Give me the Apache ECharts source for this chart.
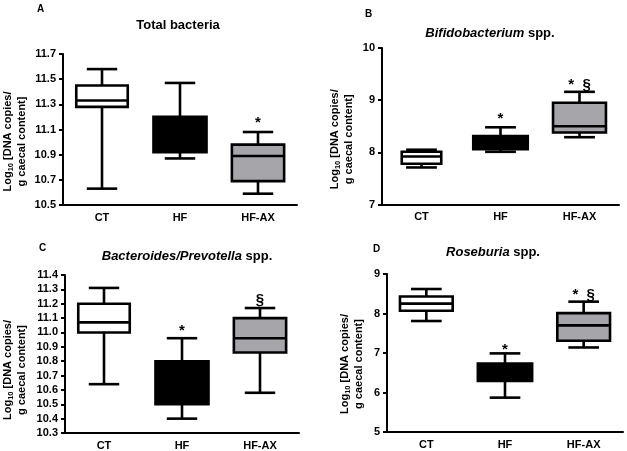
<!DOCTYPE html>
<html>
<head>
<meta charset="utf-8">
<script src="https://cdn.jsdelivr.net/npm/echarts@6/dist/echarts.min.js"></script>
<style>
html,body{margin:0;padding:0;background:#fff;}
#main{width:627px;height:451px;}
</style>
</head>
<body>
<div id="main"></div>
<script>
// ---------- DATA ----------
const categories = ['CT', 'HF', 'HF-AX'];
// five-number summaries per group: [min, Q1, median, Q3, max]
const totalBacteria = [[10.63, 11.28, 11.33, 11.45, 11.58], [10.87, 10.92, 11.05, 11.20, 11.47], [10.59, 10.69, 10.89, 10.98, 11.08]];
const bifidobacterium = [[7.71, 7.78, 7.92, 8.01, 8.05], [8.01, 8.06, 8.20, 8.31, 8.48], [8.29, 8.38, 8.50, 8.95, 9.16]];
const bacteroides = [[10.64, 11.00, 11.07, 11.20, 11.31], [10.40, 10.50, 10.65, 10.80, 10.96], [10.58, 10.86, 10.96, 11.10, 11.17]];
const roseburia = [[7.81, 8.07, 8.25, 8.43, 8.62], [5.87, 6.29, 6.50, 6.73, 6.99], [7.14, 7.31, 7.70, 8.01, 8.30]];
// significance annotations: [category index, value, text]
const notesA = [[2, 11.15, '*']];
const notesB = [[1, 8.64, '*'], [2, 9.29, '*  §']];
const notesC = [[1, 11.01, '*'], [2, 11.23, '§']];
const notesD = [[1, 7.08, '*'], [2, 8.47, '*  §']];
// tick labels
const ticksA = [10.5, 10.7, 10.9, 11.1, 11.3, 11.5, 11.7];
const ticksB = [7, 8, 9, 10];
const ticksC = [10.3, 10.4, 10.5, 10.6, 10.7, 10.8, 10.9, 11.0, 11.1, 11.2, 11.3, 11.4];
const ticksD = [5, 6, 7, 8, 9];
const panelLetters = ['A', 'B', 'C', 'D'];
const panelTitles = ['Total bacteria', '{i|Bifidobacterium} spp.', '{i|Bacteroides/Prevotella} spp.', '{i|Roseburia} spp.'];

// ---------- STYLE / LAYOUT ----------
const FONT = '"Liberation Sans", Arial, sans-serif';
const fills = ['#ffffff', '#000000', '#a5a5aa'];
const grids = [
  {left: 61, top: 54, width: 236, height: 151},
  {left: 382, top: 48, width: 237, height: 156.5},
  {left: 63, top: 275, width: 236, height: 158},
  {left: 387, top: 274, width: 236, height: 158}
];
const nameGaps = [34, 26, 36, 21];
const nameShift = [12, 13, 16, 11];
const decimals = [1, 0, 1, 0];
const boxFrac = [[0.66, 0.68, 0.67], [0.5, 0.69, 0.67], [0.66, 0.68, 0.67], [0.67, 0.69, 0.67]];
const titlePos = [[178, 19], [490, 27], [187, 250], [493, 246]];
const letterPos = [[37, 4], [365, 9], [39, 243], [373, 244]];

const chart = echarts.init(document.getElementById('main'), null, {renderer: 'canvas'});

function boxRenderer(panel) {
  return function (params, api) {
    const ci = api.value(0);
    const mn = api.value(1), q1 = api.value(2), md = api.value(3), q3 = api.value(4), mx = api.value(5);
    const band = api.size([1, 0])[0];
    const bw = band * boxFrac[panel][ci];
    const cw = band * 0.39;
    const pMin = api.coord([ci, mn]);
    const pQ1 = api.coord([ci, q1]);
    const pMd = api.coord([ci, md]);
    const pQ3 = api.coord([ci, q3]);
    const pMax = api.coord([ci, mx]);
    const x = pMin[0];
    const ls = {stroke: '#000', lineWidth: 2.6};
    return {
      type: 'group',
      children: [
        {type: 'line', shape: {x1: x, y1: pQ3[1], x2: x, y2: pMax[1]}, style: ls},
        {type: 'line', shape: {x1: x, y1: pQ1[1], x2: x, y2: pMin[1]}, style: ls},
        {type: 'line', shape: {x1: x - cw / 2, y1: pMax[1], x2: x + cw / 2, y2: pMax[1]}, style: ls},
        {type: 'line', shape: {x1: x - cw / 2, y1: pMin[1], x2: x + cw / 2, y2: pMin[1]}, style: ls},
        {type: 'rect', shape: {x: x - bw / 2, y: pQ3[1], width: bw, height: pQ1[1] - pQ3[1]},
          style: {fill: fills[ci], stroke: '#000', lineWidth: 2.6}},
        {type: 'line', shape: {x1: x - bw / 2, y1: pMd[1], x2: x + bw / 2, y2: pMd[1]}, style: ls}
      ]
    };
  };
}

function noteRenderer(params, api) {
  const p = api.coord([api.value(0), api.value(1)]);
  const txt = api.value(2);
  return {
    type: 'text',
    style: {
      text: txt, x: p[0], y: p[1], align: 'center', verticalAlign: 'middle',
      font: 'bold 15px ' + FONT, fill: '#000'
    }
  };
}

const summaries = [totalBacteria, bifidobacterium, bacteroides, roseburia];
const notes = [notesA, notesB, notesC, notesD];
const ticks = [ticksA, ticksB, ticksC, ticksD];

const xAxes = [], yAxes = [], series = [], titles = [];
for (let i = 0; i < 4; i++) {
  xAxes.push({
    type: 'category', gridIndex: i, data: categories, boundaryGap: true,
    axisLine: {lineStyle: {color: '#000', width: 2}},
    axisTick: {alignWithLabel: true, length: 4, lineStyle: {color: '#000', width: 2}},
    axisLabel: {color: '#000', fontFamily: FONT, fontWeight: 'bold', fontSize: 11, margin: 7},
    splitLine: {show: false}
  });
  const tk = ticks[i];
  yAxes.push({
    type: 'value', gridIndex: i, min: tk[0], max: tk[tk.length - 1],
    axisLine: {show: true, lineStyle: {color: '#000', width: 2}},
    axisTick: {show: true, length: 4, lineStyle: {color: '#000', width: 2}, customValues: tk},
    axisLabel: {color: '#000', fontFamily: FONT, fontWeight: 'bold', fontSize: 11, margin: 7,
      customValues: tk, formatter: (v) => Number(v).toFixed(decimals[i])},
    splitLine: {show: false},
    name: '{t|Log}{s|10}{t| [DNA copies/}{w| }\n{t|g caecal content]}{w| }',
    nameLocation: 'middle', nameRotate: 90, nameGap: nameGaps[i],
    nameMoveOverlap: false,
    nameTextStyle: {
      color: '#000', fontFamily: FONT, fontWeight: 'bold', fontSize: 11, lineHeight: 14,
      rich: {
        t: {fontFamily: FONT, fontWeight: 'bold', fontSize: 11, lineHeight: 14, color: '#000'},
        s: {fontFamily: FONT, fontWeight: 'bold', fontSize: 7.5, lineHeight: 14, color: '#000', verticalAlign: 'bottom', padding: [3, 0, 0, 0]},
        w: {fontSize: 11, lineHeight: 14, width: nameShift[i] * 2}
      }
    }
  });
  series.push({
    type: 'custom', xAxisIndex: i, yAxisIndex: i,
    renderItem: boxRenderer(i),
    encode: {x: 0, y: [1, 2, 3, 4, 5]},
    data: summaries[i].map((s, ci) => [ci].concat(s)),
    silent: true, z: 3
  });
  series.push({
    type: 'custom', xAxisIndex: i, yAxisIndex: i,
    renderItem: noteRenderer,
    encode: {x: 0, y: 1},
    dimensions: ['c', 'v', {name: 't', type: 'ordinal'}],
    data: notes[i],
    silent: true, z: 4
  });
  titles.push({
    text: panelTitles[i], left: titlePos[i][0], top: titlePos[i][1], textAlign: 'center',
    textStyle: {fontFamily: FONT, fontWeight: 'bold', fontSize: 13, color: '#000',
      rich: {i: {fontFamily: FONT, fontWeight: 'bold', fontStyle: 'italic', fontSize: 13, color: '#000'}}},
    padding: 0
  });
  titles.push({
    text: panelLetters[i], left: letterPos[i][0], top: letterPos[i][1],
    textStyle: {fontFamily: FONT, fontWeight: 'bold', fontSize: 10, color: '#000'},
    padding: 0
  });
}

chart.setOption({
  animation: false,
  backgroundColor: '#fff',
  title: titles,
  grid: grids,
  xAxis: xAxes,
  yAxis: yAxes,
  series: series
});
</script>
</body>
</html>
